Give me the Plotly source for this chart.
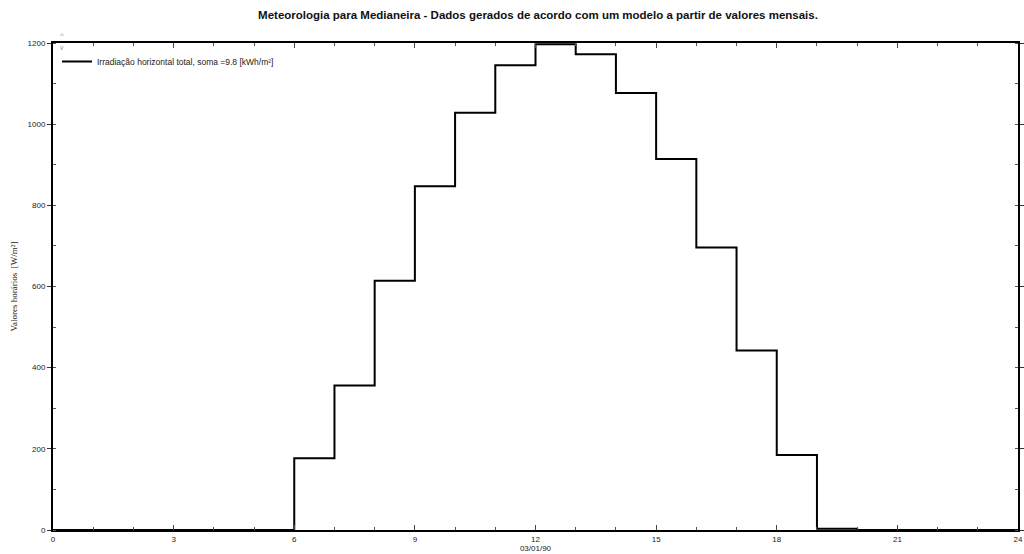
import plotly.graph_objects as go

# Hourly values (hour start -> W/m²)
hours = list(range(0, 25))
irradiance = [0, 0, 0, 0, 0, 0, 177, 356, 614, 847, 1028, 1145, 1197, 1172, 1077, 914,
              696, 442, 185, 3, 0, 0, 0, 0, 0]
x_ticks = [0, 3, 6, 9, 12, 15, 18, 21, 24]
y_ticks = [0, 200, 400, 600, 800, 1000, 1200]

title_text = "Meteorologia para Medianeira - Dados gerados de acordo com um modelo a partir de valores mensais."
legend_name = "Irradiação horizontal total, soma =9.8 [kWh/m²]"
y_title = "Valores horários  [W/m²]"
x_title = "03/01/90"

W, H = 1024, 554

fig = go.Figure()
fig.add_trace(go.Scatter(
    x=hours, y=irradiance, mode="lines", line_shape="hv",
    line=dict(color="black", width=2), name=legend_name, showlegend=True,
))

fig.update_layout(
    width=W, height=H,
    margin=dict(l=53, r=6, t=43, b=24, autoexpand=False),
    paper_bgcolor="white", plot_bgcolor="white",
    font=dict(family="Liberation Sans, Arial", size=8, color="#222"),
    title=dict(text="<b>" + title_text + "</b>", x=538 / W, xanchor="center",
               xref="container", y=1 - 15 / H, yanchor="middle",
               font=dict(family="Liberation Sans, Arial", size=11.5, color="#111")),
    showlegend=True,
    legend=dict(x=4 / 965, y=1 - 4 / 487, xanchor="left", yanchor="top",
                bgcolor="rgba(0,0,0,0)", borderwidth=0,
                font=dict(size=8.5, color="#222"), itemwidth=30),
    xaxis=dict(range=[0, 24], tickvals=x_ticks, ticks="inside", ticklen=5,
               tickcolor="#444", showgrid=False, zeroline=False,
               showline=True, linecolor="black", linewidth=2, mirror="ticks",
               minor=dict(dtick=1, ticks="inside", ticklen=3, tickcolor="#555"),
               title=dict(text=x_title, standoff=0, font=dict(size=8)),
               tickfont=dict(size=8), ticklabeloverflow="allow"),
    yaxis=dict(range=[0, 1200], tickvals=y_ticks, ticks="outside", ticklen=4,
               tickcolor="#333", showgrid=False, zeroline=False,
               showline=True, linecolor="black", linewidth=2, mirror="ticks",
               minor=dict(dtick=100, ticks="inside", ticklen=3, tickcolor="#555"),
               title=dict(text=y_title, standoff=8,
                          font=dict(family="Liberation Serif, Times New Roman", size=9)),
               tickfont=dict(size=8)),
)

# small scroll arrows at the top-left corner
fig.add_annotation(xref="paper", yref="paper", x=5 / 965, y=1 + 1 / 487, yanchor="bottom",
                   text="^", showarrow=False, font=dict(size=8, color="#999"))
fig.add_annotation(xref="paper", yref="paper", x=5 / 965, y=1 + 1 / 487, yanchor="top",
                   text="v", showarrow=False, font=dict(size=7, color="#999"))

fig.write_html("out.html", config={"displayModeBar": False},
               post_script="document.body.style.margin='0';document.body.style.overflow='hidden';")
